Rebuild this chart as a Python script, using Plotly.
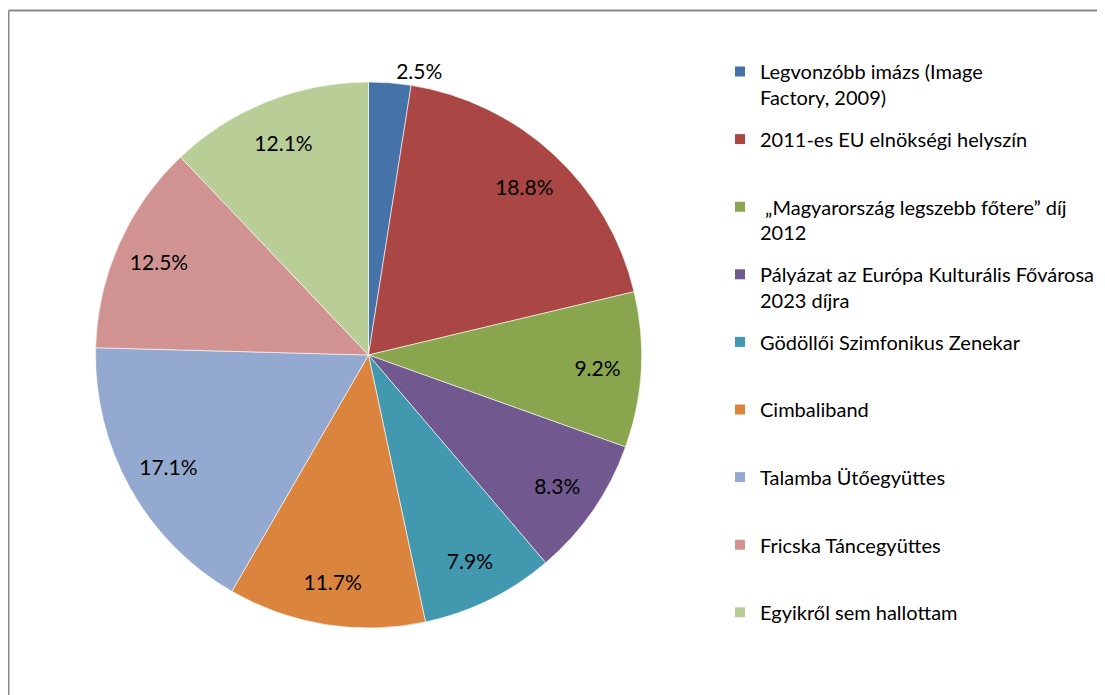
import plotly.graph_objects as go

categories = [
    "Legvonzóbb imázs (Image<br>Factory, 2009)",
    "2011-es EU elnökségi helyszín",
    " „Magyarország legszebb főtere” díj<br>2012",
    "Pályázat az Európa Kulturális Fővárosa<br>2023 díjra",
    "Gödöllői Szimfonikus Zenekar",
    "Cimbaliband",
    "Talamba Ütőegyüttes",
    "Fricska Táncegyüttes",
    "Egyikről sem hallottam",
]
values = [2.5, 18.8, 9.2, 8.3, 7.9, 11.7, 17.1, 12.5, 12.1]
colors = ["#4572A7", "#AA4643", "#89A54E", "#71588F", "#4198AF",
          "#DB843D", "#93A9CF", "#D19392", "#B9CD96"]

FONT = "Lato, 'Open Sans', sans-serif"

# page body has an 8px margin, so the figure is sized to fit the window
W, H = 1097, 687
cx, cy, r = 360.5, 347, 273
domain = dict(x=[(cx - r) / W, (cx + r) / W],
              y=[(H - cy - r) / H, (H - cy + r) / H])

fig = go.Figure()

# coloured pie
fig.add_trace(go.Pie(
    labels=categories,
    values=values,
    sort=False,
    direction="clockwise",
    rotation=0,
    marker=dict(colors=colors, line=dict(color="white", width=0.6)),
    textinfo="none",
    domain=domain,
    showlegend=False,
    hoverinfo="skip",
))

# transparent ring on top that carries the percentage labels near the rim
fig.add_trace(go.Pie(
    labels=categories,
    values=values,
    sort=False,
    direction="clockwise",
    rotation=0,
    hole=0.68,
    marker=dict(colors=["rgba(0,0,0,0)"] * len(values),
                line=dict(color="rgba(0,0,0,0)", width=0)),
    texttemplate=[f"{v:.1f}%" for v in values],
    textinfo="text",
    textposition=["outside"] + ["inside"] * (len(values) - 1),
    insidetextorientation="horizontal",
    textfont=dict(family=FONT, size=21, color="black"),
    outsidetextfont=dict(family=FONT, size=21, color="black"),
    domain=domain,
    showlegend=False,
    hovertemplate="%{label}<br>%{value}%<extra></extra>",
))

# legend entries (one per category, two text lines each for even spacing)
for name, col in zip(categories, colors):
    label = name if "<br>" in name else name + "<br>\u00a0"
    fig.add_trace(go.Scatter(
        x=[None], y=[None], mode="markers", name=label,
        legendgroup=name.replace("<br>", " "),
        marker=dict(symbol="square", size=10, color=col,
                    line=dict(width=0)),
        hoverinfo="skip",
    ))

fig.update_layout(
    width=W, height=H,
    margin=dict(l=0, r=0, t=0, b=0),
    paper_bgcolor="white",
    plot_bgcolor="white",
    showlegend=True,
    xaxis=dict(visible=False),
    yaxis=dict(visible=False),
    legend=dict(
        x=712 / W, y=1 - 44 / H, xanchor="left", yanchor="top",
        font=dict(family=FONT, size=20, color="black"),
        valign="top",
        tracegroupgap=12.6,
        itemwidth=30,
        bgcolor="rgba(0,0,0,0)",
    ),
    shapes=[
        dict(type="line", xref="paper", yref="paper",
             x0=0.5 / W, x1=1.0, y0=1 - 2.5 / H, y1=1 - 2.5 / H,
             line=dict(color="#8a8a8a", width=2)),
        dict(type="line", xref="paper", yref="paper",
             x0=0.5 / W, x1=0.5 / W, y0=0, y1=1 - 2.5 / H,
             line=dict(color="#8a8a8a", width=2)),
    ],
)

fig.write_html("out.html")
